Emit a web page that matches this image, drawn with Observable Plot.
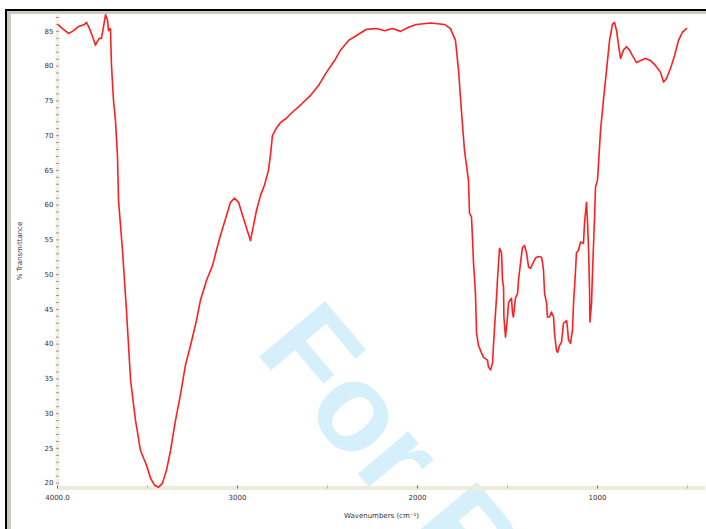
<!DOCTYPE html>
<html>
<head>
<meta charset="utf-8">
<script src="https://cdn.jsdelivr.net/npm/d3@7"></script>
<script src="https://cdn.jsdelivr.net/npm/@observablehq/plot@0.6"></script>
<style>
  html, body { margin: 0; padding: 0; background: #fff; }
  #wrap { position: relative; width: 706px; height: 529px; overflow: hidden; background: #fff; }
  #border { position: absolute; left: 5px; top: 9px; width: 701px; height: 520px;
            border-top: 2px solid #000; border-left: 2px solid #000; box-sizing: border-box; }
  #band { position: absolute; left: 7px; top: 11px; width: 699px; height: 518px;
          border-top: 3px solid #cdc9bd; border-left: 4px solid #cdc9bd; box-sizing: border-box; }
  #mark { position: absolute; left: 0; top: 0; }
  #chart { position: absolute; left: 0; top: 0; }
  #chart svg { background: transparent; }
</style>
</head>
<body>
<div id="wrap">
  <svg id="mark" width="706" height="529">
    <text x="254" y="350" transform="rotate(50 254 350)" font-family="Liberation Sans, Arial, sans-serif"
          font-weight="bold" font-size="125" fill="#d5effb">For Reference</text>
  </svg>
  <div id="border"></div>
  <div id="band"></div>
  <div id="chart"></div>
</div>
<script>
// IR spectrum: wavenumber (cm-1) and % transmittance
const wavenumber = [3994,3972,3939,3917,3883,3850,3839,3822,3806,3789,3778,3767,3756,3744,3733,3722,3717,3706,3700,3689,3678,3667,3661,3639,3617,3594,3567,3539,3506,3483,3461,3439,3417,3394,3372,3344,3317,3289,3261,3228,3206,3172,3139,3117,3094,3061,3039,3017,2994,2972,2950,2928,2911,2894,2872,2850,2828,2817,2806,2783,2761,2728,2694,2650,2594,2550,2506,2461,2428,2383,2339,2283,2228,2183,2139,2094,2050,2006,1928,1850,1817,1789,1772,1756,1739,1717,1711,1700,1694,1689,1678,1672,1661,1644,1633,1611,1606,1594,1583,1578,1572,1561,1556,1544,1533,1528,1522,1520,1511,1500,1494,1478,1472,1467,1456,1444,1439,1428,1417,1406,1394,1383,1372,1356,1344,1328,1311,1306,1300,1294,1283,1278,1267,1256,1244,1239,1228,1222,1211,1200,1189,1172,1167,1161,1150,1139,1133,1122,1117,1106,1094,1078,1072,1061,1056,1050,1044,1042,1033,1028,1017,1011,1000,983,967,950,933,917,906,894,883,872,856,839,822,806,783,761,733,706,678,650,633,617,594,572,550,528,506];
const transmittance = [85.9,85.4,84.7,85.0,85.7,86.0,86.3,85.4,84.3,83.0,83.6,84.0,84.0,85.7,87.4,86.6,85.1,85.4,80.1,75.1,72.2,67.2,60.7,53.5,44.9,34.8,29.1,24.7,22.6,20.7,19.7,19.4,20.0,21.9,24.7,29.1,32.7,37.0,39.8,43.4,46.3,49.2,51.3,53.5,55.7,58.5,60.4,61.0,60.4,58.5,56.7,54.9,57.1,59.3,61.4,62.9,65.0,67.2,70.0,71.1,71.9,72.5,73.4,74.4,75.8,77.2,79.1,80.8,82.3,83.7,84.4,85.3,85.4,85.1,85.4,85.0,85.6,86.0,86.2,86.0,85.4,83.7,79.4,73.6,67.9,63.6,58.8,58.3,54.9,51.8,47.3,41.6,39.8,38.7,38.1,37.7,36.7,36.3,37.3,39.8,42.4,46.7,49.2,53.8,53.1,49.2,48.2,43.9,41.0,43.9,46.0,46.6,44.4,43.9,46.6,47.3,49.2,51.6,53.9,54.2,53.1,51.1,50.9,51.8,52.4,52.6,52.5,51.8,50.6,47.3,45.9,43.9,43.9,44.6,43.9,41.6,39.1,38.8,39.8,40.3,43.0,43.4,42.4,40.6,40.1,42.0,45.9,50.6,53.1,53.5,54.7,54.5,57.5,60.4,57.8,53.9,47.8,43.2,45.9,50.2,57.8,62.6,63.6,70.8,75.1,79.4,83.7,86.0,86.3,85.1,83.0,81.1,82.3,82.8,82.3,81.5,80.5,80.8,81.1,80.8,80.1,79.1,77.7,78.2,79.7,81.5,83.7,84.9,85.4];

// axis ticks and labels
const xMajor = [4000, 3000, 2000, 1000];
const xMinor = [3500, 2500, 1500, 500];
const xLabels = ["4000.0", "3000", "2000", "1000"];
const yMajor = [20, 25, 30, 35, 40, 45, 50, 55, 60, 65, 70, 75, 80, 85];
const yMinor = d3.range(20, 88, 1);

const xDomain = [4000, 400];
const yDomain = [19.3, 87.5];

const spectrum = wavenumber.map((w, i) => ({w, t: transmittance[i]}));

const strip = "#eeebdb";

const chart = Plot.plot({
  width: 706,
  height: 529,
  marginLeft: 57,
  marginRight: 1,
  marginTop: 13.5,
  marginBottom: 41.5,
  style: {fontFamily: "DejaVu Sans, sans-serif", fontSize: "7px", color: "#333", background: "transparent"},
  x: {domain: xDomain},
  y: {domain: yDomain},
  marks: [
    // axis strips
    Plot.ruleY([yDomain[0]], {stroke: strip, strokeWidth: 4}),
    Plot.ruleX([xDomain[0]], {stroke: "#f3f1e3", strokeWidth: 4}),
    // y axis: fine ticks, labels
    Plot.axisY({ticks: yMinor, tickSize: 3, dx: 2, text: null, stroke: "#9a978c", label: null}),
    Plot.axisY({ticks: yMajor, tickSize: 0, tickPadding: 4, fill: "#333",
                label: "% Transmittance", labelAnchor: "center", labelOffset: 40, labelArrow: "none"}),
    // x axis: ticks on the strip, labels below
    Plot.axisX({ticks: xMinor, tickSize: 3, dy: -2, text: null, stroke: "#b9b5a6", label: null}),
    Plot.axisX({ticks: xMajor, tickSize: 3, dy: -2, stroke: "#6a675e", tickPadding: 6,
                tickFormat: (d, i) => xLabels[i], fill: "#333",
                label: "Wavenumbers (cm⁻¹)", labelAnchor: "center", labelOffset: 30, labelArrow: "none"}),
    // spectrum trace
    Plot.line(spectrum, {x: "w", y: "t", stroke: "#ff1f1f", strokeWidth: 1.6, curve: "linear"})
  ]
});
document.getElementById("chart").appendChild(chart);
</script>
</body>
</html>
